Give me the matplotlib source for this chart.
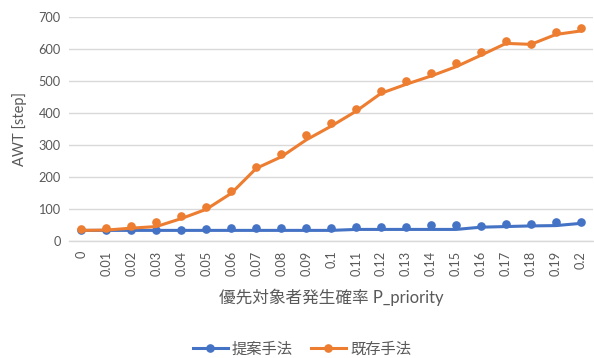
import numpy as np
import matplotlib.pyplot as plt
from matplotlib.lines import Line2D

plt.rcParams['font.family'] = ['Lato', 'Noto Sans CJK JP', 'DejaVu Sans']

# x categories
p_priority = ["0", "0.01", "0.02", "0.03", "0.04", "0.05", "0.06", "0.07", "0.08", "0.09", "0.1",
              "0.11", "0.12", "0.13", "0.14", "0.15", "0.16", "0.17", "0.18", "0.19", "0.2"]

# proposed method (markers / line)
proposed_pts = [35, 35, 35, 35, 35, 36, 42, 42, 42, 42, 40,
                43, 43, 43, 49, 49, 47, 53, 53, 59, 58]
proposed_line = [33, 33, 33, 33, 33, 33, 33, 33, 33, 33, 33,
                 36, 36, 36, 36, 36, 43, 45, 47, 48, 55]

# existing method (markers / line)
existing_pts = [37, 41, 47, 58, 78, 105, 156, 232, 271, 331, 370,
                413, 470, 501, 524, 556, 590, 626, 617, 654, 666]
existing_line = [33, 34, 40, 45, 70, 99, 149, 227, 263, 316, 359,
                 406, 462, 490, 516, 545, 581, 618, 615, 646, 657]

blue = "#4472C4"
orange = "#ED7D31"
gray = "#595959"

fig = plt.figure(figsize=(5.94, 3.58), dpi=100)
ax = fig.add_axes([0.116, 0.327, 0.883, 0.625])

x = np.arange(len(p_priority))
ax.plot(x, proposed_line, color=blue, lw=2.2, zorder=3)
ax.plot(x, proposed_pts, "o", color=blue, ms=5.2, zorder=3)
ax.plot(x, existing_line, color=orange, lw=2.2, zorder=4)
ax.plot(x, existing_pts, "o", color=orange, ms=5.2, zorder=4)

ax.set_xlim(-0.5, len(p_priority) - 0.5)
ax.set_ylim(0, 700)
ax.set_yticks(np.arange(0, 701, 100))
ax.set_xticks(x)
ax.set_xticklabels(p_priority, rotation=90, va="top", ha="center")
ax.grid(axis="y", color="#D9D9D9", lw=1.0)
ax.set_axisbelow(True)
for s in ["top", "right", "left"]:
    ax.spines[s].set_visible(False)
ax.spines["bottom"].set_color("#D9D9D9")
ax.spines["bottom"].set_linewidth(1.0)
ax.tick_params(length=0, labelsize=9.2, labelcolor=gray, pad=6)
ax.tick_params(axis="x", pad=7)

ax.set_ylabel("AWT [step]", fontsize=10.5, color=gray, labelpad=8)
ax.set_xlabel("優先対象者発生確率 P_priority", fontsize=12, color=gray, labelpad=9.5)

handles = [
    Line2D([], [], color=blue, lw=2.2, marker="o", ms=5.2),
    Line2D([], [], color=orange, lw=2.2, marker="o", ms=5.2),
]
leg = fig.legend(handles, ["提案手法", "既存手法"], loc="center", ncol=2,
                 bbox_to_anchor=(0.508, 0.025), frameon=False, fontsize=11,
                 handlelength=2.3, handletextpad=0.25, columnspacing=1.2)
for t in leg.get_texts():
    t.set_color(gray)

fig.savefig("out.png", dpi=100)
